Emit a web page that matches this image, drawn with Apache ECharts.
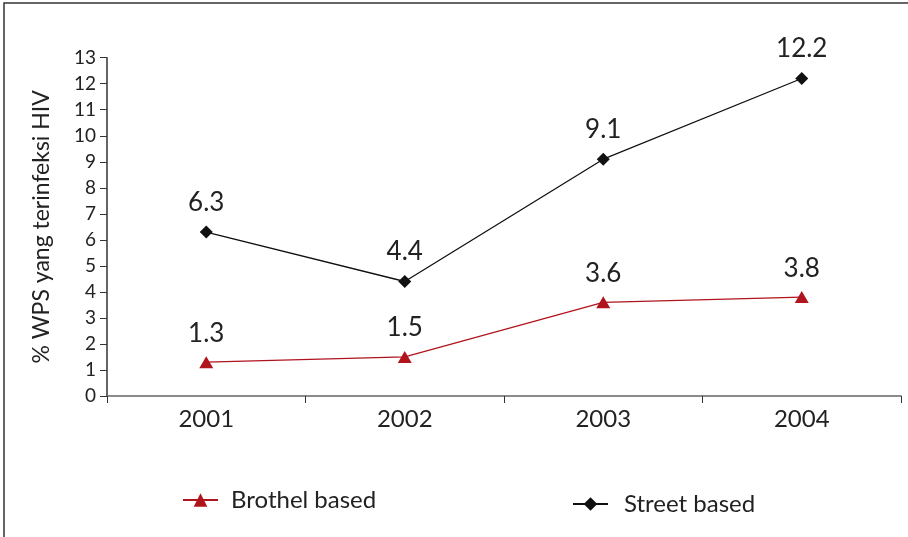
<!DOCTYPE html>
<html><head><meta charset="utf-8">
<script src="https://cdn.jsdelivr.net/npm/echarts@6/dist/echarts.min.js"></script>
<style>html,body{margin:0;padding:0;background:#fff}#c{width:908px;height:537px}</style>
</head><body><div id="c"></div>
<script>
const categories = ['2001', '2002', '2003', '2004'];
const brothel = [1.3, 1.5, 3.6, 3.8];
const street = [6.3, 4.4, 9.1, 12.2];
const yTicks = [0,1,2,3,4,5,6,7,8,9,10,11,12,13];
const FONT = 'Lato';
const chart = echarts.init(document.getElementById('c'), null, {renderer:'canvas'});
chart.setOption({
  backgroundColor:'#fff',
  animation:false,
  textStyle:{fontFamily:FONT},
  graphic:[{type:'rect', shape:{x:4,y:3,width:1000,height:1000}, style:{fill:'none', stroke:'#333', lineWidth:1.5}, silent:true}],
  grid:{left:107, right:7, top:57.7, bottom:141, containLabel:false},
  legend:[
    {data:['Brothel based'], left:177, top:483, itemWidth:35, itemHeight:17,
     textStyle:{fontFamily:FONT, fontSize:24, color:'#222', padding:[0,0,0,8]}},
    {data:['Street based'], left:567, top:487, itemWidth:35, itemHeight:17,
     textStyle:{fontFamily:FONT, fontSize:24, color:'#222', padding:[0,0,0,11]}}
  ],
  xAxis:{type:'category', data:categories, boundaryGap:true,
    axisLine:{lineStyle:{color:'#666', width:1.5}},
    axisTick:{show:true, length:7, inside:false, lineStyle:{color:'#333'}},
    axisLabel:{fontSize:24, color:'#222', margin:11, fontFamily:FONT}},
  yAxis:{type:'value', min:yTicks[0], max:yTicks[yTicks.length-1], interval:1,
    name:'% WPS yang terinfeksi HIV', nameLocation:'middle', nameGap:54, nameRotate:90,
    nameTextStyle:{fontSize:23, color:'#222', fontFamily:FONT},
    axisLine:{show:true, lineStyle:{color:'#333', width:1.5}},
    axisTick:{show:true, length:7, lineStyle:{color:'#333'}},
    splitLine:{show:false},
    axisLabel:{fontSize:19, color:'#222', margin:11, fontFamily:FONT}},
  series:[
    {name:'Brothel based', type:'line', data:brothel, symbol:'triangle', symbolSize:[14,12],
     lineStyle:{color:'#b0141c', width:1.3}, itemStyle:{color:'#b0141c'},
     label:{show:true, position:'top', distance:10, fontSize:26, color:'#222', fontFamily:FONT}},
    {name:'Street based', type:'line', data:street, symbol:'diamond', symbolSize:13,
     lineStyle:{color:'#111', width:1.3}, itemStyle:{color:'#111'},
     label:{show:true, position:'top', distance:10, fontSize:26, color:'#222', fontFamily:FONT}}
  ]
});
</script></body></html>
